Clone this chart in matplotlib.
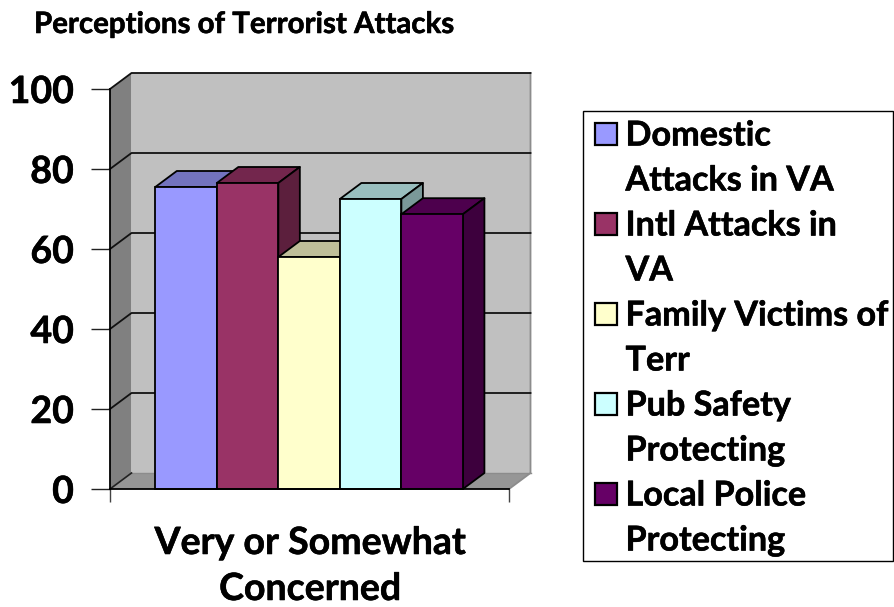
import matplotlib
matplotlib.use('Agg')
import matplotlib.pyplot as plt
import matplotlib.patheffects as pe
from matplotlib.patches import Polygon, Rectangle
from matplotlib.colors import to_rgb

plt.rcParams['font.family'] = ['Lato', 'DejaVu Sans']
plt.rcParams['font.weight'] = 'bold'

categoria = 'Very or Somewhat\nConcerned'
series = ['Domestic\nAttacks in VA', 'Intl Attacks in\nVA', 'Family Victims of\nTerr',
          'Pub Safety\nProtecting', 'Local Police\nProtecting']
valores = [75.5, 76.5, 58, 72.5, 68.7]
cores = ['#9999ff', '#993366', '#ffffcc', '#ccffff', '#660066']
yticks = [0, 20, 40, 60, 80, 100]

W, H = 894, 607

# engrossa um pouco o texto, a fonte original e mais pesada
grosso = [pe.withStroke(linewidth=0.4, foreground='black')]


def shade(cor, f):
    return tuple(c * f for c in to_rgb(cor))


fig = plt.figure(figsize=(W / 100, H / 100), dpi=100)
ax = fig.add_axes([110 / W, 1 - 489 / H, 399 / W, 400 / H])
ax.set_xlim(0, 1)
ax.set_ylim(0, 100)

# profundidade do efeito 3D, em unidades dos dados
dx = 21.5 / 399
dy = 16 / 4

# paredes e chao
ax.add_patch(Polygon([(dx, dy), (1 + dx, dy), (1 + dx, 100 + dy), (dx, 100 + dy)],
                     fc='#c0c0c0', ec='none', clip_on=False, zorder=1))
ax.add_patch(Polygon([(0, 0), (dx, dy), (dx, 100 + dy), (0, 100)],
                     fc='#808080', ec='none', clip_on=False, zorder=1))
ax.add_patch(Polygon([(0, 0), (1, 0), (1 + dx, dy), (dx, dy)],
                     fc='#969696', ec='none', clip_on=False, zorder=1))
ax.plot([1 + dx, 1 + dx, 1], [100 + dy, dy, 0], color='#8c8c8c', lw=1.3, clip_on=False, zorder=1.5)
ax.plot([dx, 1 + dx], [dy, dy], color='#8c8c8c', lw=1.0, clip_on=False, zorder=1.5)

# linhas de grade
for t in yticks:
    if t == 0:
        ax.plot([0, dx], [0, dy], color='#222222', lw=1.2, clip_on=False, zorder=2)
        continue
    ax.plot([0, dx, 1 + dx], [t, t + dy, t + dy], color='#111111', lw=1.3, clip_on=False, zorder=2)

# barras
largura = 0.1542
x0 = 0.1135
for i, (v, c) in enumerate(zip(valores, cores)):
    x = x0 + i * largura
    ax.add_patch(Polygon([(x, v), (x + largura, v), (x + largura + dx, v + dy), (x + dx, v + dy)],
                         fc=shade(c, 0.75), ec='black', lw=1.3, joinstyle='round', clip_on=False, zorder=3 + i))
    ax.add_patch(Polygon([(x + largura, 0), (x + largura + dx, dy), (x + largura + dx, v + dy), (x + largura, v)],
                         fc=shade(c, 0.6), ec='black', lw=1.3, joinstyle='round', clip_on=False, zorder=3 + i))
    ax.bar(x, v, width=largura, align='edge', color=c, edgecolor='black', linewidth=1.3,
           clip_on=False, zorder=3 + i)

ax.patch.set_visible(False)
for s in ['top', 'right']:
    ax.spines[s].set_visible(False)
ax.spines['left'].set_linewidth(1.3)
ax.spines['bottom'].set_linewidth(1.3)
ax.spines['left'].set_zorder(2.5)
ax.spines['bottom'].set_zorder(10)

ax.set_yticks(yticks)
ax.set_xticks([0, 1])
ax.set_xticklabels([])
ax.tick_params(axis='y', length=14, width=1, color='#222222', labelsize=27, pad=12)
ax.tick_params(axis='x', length=9, width=1, color='#444444')
for lab in ax.get_yticklabels():
    lab.set_path_effects(grosso)

fig.text(310 / W, 1 - 543 / H, categoria.split('\n')[0], fontsize=27, ha='center', va='center', path_effects=grosso)
fig.text(310 / W, 1 - 589 / H, categoria.split('\n')[1], fontsize=27, ha='center', va='center', path_effects=grosso)

fig.text(34 / W, 1 - 25 / H, 'Perceptions of Terrorist Attacks', fontsize=21.2, ha='left', va='center',
         path_effects=grosso)

# legenda
fig.add_artist(Rectangle((582.5 / W, 1 - 561 / H), 310 / W, 450 / H, transform=fig.transFigure,
                         fc='white', ec='black', lw=1))
y = 134
for nome, c in zip(series, cores):
    fig.add_artist(Rectangle((594.5 / W, 1 - (y + 11) / H), 22 / W, 22 / H, transform=fig.transFigure,
                             fc=c, ec='black', lw=1.6))
    for linha in nome.split('\n'):
        fig.text(625.5 / W, 1 - (y + 1.5) / H, linha, fontsize=24.6, ha='left', va='center', path_effects=grosso)
        y += 45

fig.savefig('out.png', dpi=100)
